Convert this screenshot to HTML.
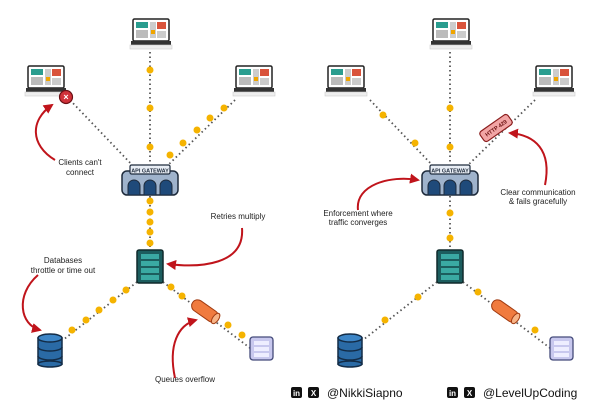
<!DOCTYPE html>
<html><head><meta charset="utf-8"><style>
html,body{margin:0;padding:0;background:#fff;width:600px;height:400px;overflow:hidden}
text{font-family:"Liberation Sans",sans-serif}
</style></head><body>
<svg width="600" height="400" viewBox="0 0 600 400" xmlns="http://www.w3.org/2000/svg">
<defs>
<g id="laptop">
<rect x="-18" y="-11" width="36" height="22" rx="1.5" fill="#fff" stroke="#222" stroke-width="1.5"/>
<rect x="-15" y="-8" width="12" height="6" fill="#2a9d8f"/>
<rect x="6" y="-8" width="9" height="7" fill="#d9533b"/>
<rect x="-15" y="0" width="12" height="8" fill="#bbb"/>
<rect x="-1" y="-8" width="6" height="16" fill="#ccc"/>
<rect x="0" y="0" width="4" height="4" fill="#f0a500"/>
<rect x="6" y="1" width="9" height="7" fill="#ccc"/>
<rect x="-20" y="11" width="40" height="4" fill="#333"/>
<rect x="-21" y="15" width="42" height="4" fill="#eee" stroke="#ccc" stroke-width="0.6"/>
</g>
<g id="gw">
<rect x="-28" y="-9" width="56" height="24" rx="5" fill="#9fb3cc" stroke="#1e2b3c" stroke-width="1.5"/>
<path d="M-22 15 v-9 a6 6 0 0 1 12 0 v9z M-6 15 v-9 a6 6 0 0 1 12 0 v9z M10 15 v-9 a6 6 0 0 1 12 0 v9z" fill="#1f4a7a" stroke="#1e2b3c" stroke-width="1"/>
<rect x="-20" y="-15" width="40" height="9" rx="1.5" fill="#e9eef5" stroke="#1e2b3c" stroke-width="1.2"/>
</g>
<g id="srv">
<rect x="-13" y="-16" width="26" height="33" rx="2" fill="#1c5d5e" stroke="#102a2b" stroke-width="1.5"/>
<rect x="-9" y="-12" width="18" height="5" fill="#3aa9a3"/><rect x="-9" y="-5" width="18" height="5" fill="#3aa9a3"/>
<rect x="-9" y="2" width="18" height="5" fill="#3aa9a3"/><rect x="-9" y="9" width="18" height="5" fill="#3aa9a3"/>
</g>
<g id="db">
<rect x="-12" y="-12" width="24" height="26" fill="#2a6aa5" stroke="#132c47" stroke-width="1.5"/>
<ellipse cx="0" cy="-12" rx="12" ry="4" fill="#3d85c6" stroke="#132c47" stroke-width="1.5"/>
<path d="M-12 -3 a12 4 0 0 0 24 0 M-12 6 a12 4 0 0 0 24 0" fill="none" stroke="#132c47" stroke-width="1.5"/>
<ellipse cx="0" cy="14" rx="12" ry="3" fill="#2a6aa5" stroke="#132c47" stroke-width="1.5"/>
</g>
<g id="ss">
<rect x="-11" y="-11" width="23" height="23" rx="3" fill="#c8c8ee" stroke="#444a7a" stroke-width="1.3"/>
<rect x="-7" y="-7" width="15" height="4" fill="#eef"/><rect x="-7" y="-1" width="15" height="4" fill="#eef"/><rect x="-7" y="5" width="15" height="4" fill="#eef"/>
</g>
<g id="q">
<rect x="-15" y="-6" width="30" height="12" rx="6" fill="#f07b3f" stroke="#a03a10" stroke-width="1"/>
<ellipse cx="13" cy="0" rx="3" ry="6" fill="#f7b487" stroke="#a03a10" stroke-width="1"/>
</g>
<marker id="ah" viewBox="0 0 10 10" refX="8" refY="5" markerWidth="5" markerHeight="5" orient="auto"><path d="M0 0 L10 5 L0 10 z" fill="#c0141b"/></marker>
</defs>
<g stroke="#555" stroke-width="1.8" stroke-dasharray="1.5 3" fill="none">
<path d="M150 52 V165 M70 100 L135 168 M235 100 L165 168 M150 196 V250 M137 282 L63 340 M163 282 L250 348"/>
<path d="M450 52 V165 M370 100 L435 168 M535 100 L465 168 M450 196 V250 M437 282 L363 340 M463 282 L550 348"/>
</g>
<g fill="#f5b300">
<circle cx="150" cy="70" r="3.5"/><circle cx="150" cy="108" r="3.5"/><circle cx="150" cy="147" r="3.5"/>
<circle cx="224" cy="108" r="3.5"/><circle cx="210" cy="118" r="3.5"/><circle cx="197" cy="130" r="3.5"/><circle cx="183" cy="143" r="3.5"/><circle cx="170" cy="155" r="3.5"/>
<circle cx="150" cy="201" r="3.5"/><circle cx="150" cy="212" r="3.5"/><circle cx="150" cy="222" r="3.5"/><circle cx="150" cy="232" r="3.5"/><circle cx="150" cy="243" r="3.5"/>
<circle cx="72" cy="330" r="3.5"/><circle cx="86" cy="320" r="3.5"/><circle cx="99" cy="310" r="3.5"/><circle cx="113" cy="300" r="3.5"/><circle cx="126" cy="290" r="3.5"/>
<circle cx="171" cy="287" r="3.5"/><circle cx="182" cy="296" r="3.5"/><circle cx="228" cy="325" r="3.5"/><circle cx="242" cy="335" r="3.5"/>
<circle cx="450" cy="108" r="3.5"/><circle cx="450" cy="147" r="3.5"/><circle cx="383" cy="115" r="3.5"/><circle cx="415" cy="143" r="3.5"/>
<circle cx="450" cy="213" r="3.5"/><circle cx="450" cy="238" r="3.5"/><circle cx="418" cy="297" r="3.5"/><circle cx="385" cy="320" r="3.5"/>
<circle cx="478" cy="292" r="3.5"/><circle cx="535" cy="330" r="3.5"/>
</g>
<use href="#laptop" x="151" y="30"/><use href="#laptop" x="46" y="77"/><use href="#laptop" x="254" y="77"/>
<use href="#laptop" x="451" y="30"/><use href="#laptop" x="346" y="77"/><use href="#laptop" x="554" y="77"/>
<circle cx="66" cy="97" r="6.5" fill="#d0323a" stroke="#6a1015" stroke-width="1.2"/>
<text x="66" y="100" font-size="9" fill="#fff" text-anchor="middle" font-weight="bold">×</text>
<use href="#gw" x="150" y="180"/><use href="#gw" x="450" y="180"/>
<text x="150" y="172.5" font-size="5.5" font-weight="bold" text-anchor="middle" fill="#1e2b3c">API GATEWAY</text>
<text x="450" y="172.5" font-size="5.5" font-weight="bold" text-anchor="middle" fill="#1e2b3c">API GATEWAY</text>
<use href="#srv" x="150" y="266"/><use href="#srv" x="450" y="266"/>
<use href="#db" x="50" y="350"/><use href="#db" x="350" y="350"/>
<use href="#ss" x="261" y="348"/><use href="#ss" x="561" y="348"/>
<use href="#q" transform="translate(205,311) rotate(35)"/><use href="#q" transform="translate(505,311) rotate(35)"/>
<g transform="translate(496,128) rotate(-35)">
<rect x="-17" y="-6" width="34" height="12" rx="3" fill="#f2a5a5" stroke="#8a1c1c" stroke-width="1.2"/>
<text x="0" y="2" font-size="5.5" font-weight="bold" text-anchor="middle" fill="#6a1010">HTTP 429</text>
</g>
<g stroke="#c0141b" stroke-width="2" fill="none" marker-end="url(#ah)">
<path d="M55 160 C30 145 30 120 52 105"/>
<path d="M242 228 C245 265 200 268 168 264"/>
<path d="M38 275 C15 295 20 325 40 330"/>
<path d="M175 378 C168 345 178 325 196 320"/>
<path d="M358 210 C355 185 390 175 418 180"/>
<path d="M545 185 C552 150 535 135 510 133"/>
</g>
<g font-size="8" fill="#222" text-anchor="middle">
<text x="80" y="165">Clients can't</text><text x="80" y="175">connect</text>
<text x="238" y="219">Retries multiply</text>
<text x="63" y="263">Databases</text><text x="63" y="273">throttle or time out</text>
<text x="185" y="382">Queues overflow</text>
<text x="358" y="216">Enforcement where</text><text x="358" y="225">traffic converges</text>
<text x="538" y="195">Clear communication</text><text x="538" y="204">&amp; fails gracefully</text>
</g>
<g>
<rect x="291" y="387" width="11" height="11" rx="2" fill="#111"/><text x="296.5" y="396" font-size="8" font-weight="bold" fill="#fff" text-anchor="middle">in</text>
<rect x="308" y="387" width="11" height="11" rx="2" fill="#111"/><text x="313.5" y="396" font-size="8" font-weight="bold" fill="#fff" text-anchor="middle">X</text>
<text x="327" y="397" font-size="12" fill="#111">@NikkiSiapno</text>
<rect x="447" y="387" width="11" height="11" rx="2" fill="#111"/><text x="452.5" y="396" font-size="8" font-weight="bold" fill="#fff" text-anchor="middle">in</text>
<rect x="464" y="387" width="11" height="11" rx="2" fill="#111"/><text x="469.5" y="396" font-size="8" font-weight="bold" fill="#fff" text-anchor="middle">X</text>
<text x="483" y="397" font-size="12" fill="#111">@LevelUpCoding</text>
</g>
</svg>
</body></html>
